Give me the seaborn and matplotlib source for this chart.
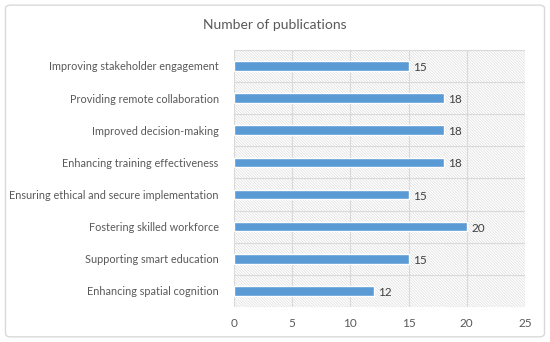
import matplotlib
matplotlib.use("Agg")
import matplotlib.pyplot as plt
import seaborn as sns
import pandas as pd
from matplotlib.patches import Rectangle, FancyBboxPatch

categories = [
    "Improving stakeholder engagement",
    "Providing remote collaboration",
    "Improved decision-making",
    "Enhancing training effectiveness",
    "Ensuring ethical and secure implementation",
    "Fostering skilled workforce",
    "Supporting smart education",
    "Enhancing spatial cognition",
]
values = [15, 18, 18, 18, 15, 20, 15, 12]
xticks = [0, 5, 10, 15, 20, 25]
title = "Number of publications"

sns.set_theme(style="white")
plt.rcParams['font.family'] = ['Lato', 'DejaVu Sans']
plt.rcParams['hatch.linewidth'] = 0.4
plt.rcParams['hatch.color'] = '#d6d6d6'

df = pd.DataFrame({"cat": categories, "val": values})
fig = plt.figure(figsize=(5.5, 3.42), dpi=100)
bg = FancyBboxPatch((0.01, 0.015), 0.98, 0.97, boxstyle="round,pad=0,rounding_size=0.01",
                    transform=fig.transFigure, facecolor='white', edgecolor='#d9d9d9', lw=1, zorder=-10)
fig.patches.append(bg)
ax = fig.add_axes([0.4255, 0.1023, 0.529, 0.752])
ax.set_zorder(1)
ax.set_facecolor('none')
ax.add_patch(Rectangle((0, 0), 1, 1, transform=ax.transAxes, facecolor='white',
                       edgecolor='#d6d6d6', hatch='\\' * 12, lw=0, zorder=0))
sns.barplot(data=df, y="cat", x="val", orient="h", color="#5B9BD5", width=0.3,
            saturation=1, ax=ax, zorder=3)
ax.set_xlim(0, 25)
ax.set_ylim(len(categories) - 0.5, -0.5)
ax.set_xticks(xticks)
ax.set_yticks(range(len(categories)))
ax.set_yticklabels(categories)
for x in xticks:
    ax.axvline(x, color='#d9d9d9', lw=0.8, zorder=1)
for i in range(len(categories) + 1):
    ax.axhline(i - 0.5, color='#d9d9d9', lw=0.8, zorder=1)
for i, v in enumerate(values):
    ax.text(v + 0.4, i + 0.05, str(v), va='center', ha='left', fontsize=8.5, color='#404040', zorder=4)
ax.tick_params(axis='y', length=0, labelsize=7.8, labelcolor='#595959', pad=11)
ax.tick_params(axis='x', length=0, labelsize=8.5, labelcolor='#595959', pad=8)
for s in ax.spines.values():
    s.set_visible(False)
ax.set_xlabel("")
ax.set_ylabel("")
fig.text(0.5, 0.927, title, ha='center', va='center', fontsize=10, color='#595959')
fig.savefig("out.png", dpi=100)
